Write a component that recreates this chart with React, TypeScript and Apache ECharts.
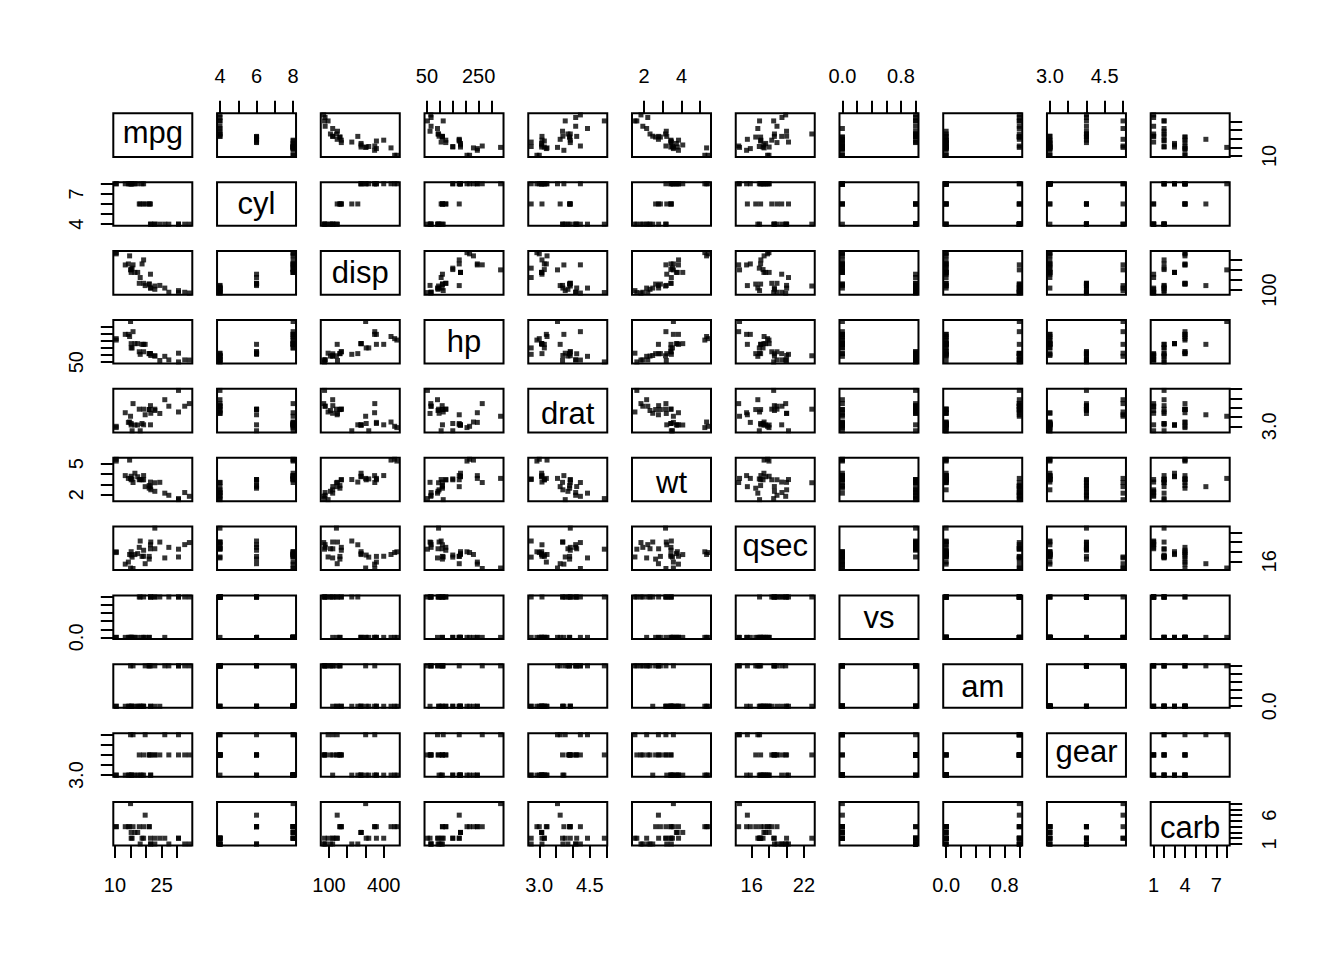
import React, { useEffect, useRef } from "react";
import * as echarts from "echarts";

// mtcars variables
const varNames = ["mpg", "cyl", "disp", "hp", "drat", "wt", "qsec", "vs", "am", "gear", "carb"];
const mpg = [21.0, 21.0, 22.8, 21.4, 18.7, 18.1, 14.3, 24.4, 22.8, 19.2, 17.8, 16.4, 17.3, 15.2, 10.4, 10.4, 14.7, 32.4, 30.4, 33.9, 21.5, 15.5, 15.2, 13.3, 19.2, 27.3, 26.0, 30.4, 15.8, 19.7, 15.0, 21.4];
const cyl = [6, 6, 4, 6, 8, 6, 8, 4, 4, 6, 6, 8, 8, 8, 8, 8, 8, 4, 4, 4, 4, 8, 8, 8, 8, 4, 4, 4, 8, 6, 8, 4];
const disp = [160.0, 160.0, 108.0, 258.0, 360.0, 225.0, 360.0, 146.7, 140.8, 167.6, 167.6, 275.8, 275.8, 275.8, 472.0, 460.0, 440.0, 78.7, 75.7, 71.1, 120.1, 318.0, 304.0, 350.0, 400.0, 79.0, 120.3, 95.1, 351.0, 145.0, 301.0, 121.0];
const hp = [110, 110, 93, 110, 175, 105, 245, 62, 95, 123, 123, 180, 180, 180, 205, 215, 230, 66, 52, 65, 97, 150, 150, 245, 175, 66, 91, 113, 264, 175, 335, 109];
const drat = [3.90, 3.90, 3.85, 3.08, 3.15, 2.76, 3.21, 3.69, 3.92, 3.92, 3.92, 3.07, 3.07, 3.07, 2.93, 3.00, 3.23, 4.08, 4.93, 4.22, 3.70, 2.76, 3.15, 3.73, 3.08, 4.08, 4.43, 3.77, 4.22, 3.62, 3.54, 4.11];
const wt = [2.620, 2.875, 2.320, 3.215, 3.440, 3.460, 3.570, 3.190, 3.150, 3.440, 3.440, 4.070, 3.730, 3.780, 5.250, 5.424, 5.345, 2.200, 1.615, 1.835, 2.465, 3.520, 3.435, 3.840, 3.845, 1.935, 2.140, 1.513, 3.170, 2.770, 3.570, 2.780];
const qsec = [16.46, 17.02, 18.61, 19.44, 17.02, 20.22, 15.84, 20.00, 22.90, 18.30, 18.90, 17.40, 17.60, 18.00, 17.98, 17.82, 17.42, 19.47, 18.52, 19.90, 20.01, 16.87, 17.30, 15.41, 17.05, 18.90, 16.70, 16.90, 14.50, 15.50, 14.60, 18.60];
const vs = [0, 0, 1, 1, 0, 1, 0, 1, 1, 1, 1, 0, 0, 0, 0, 0, 0, 1, 1, 1, 1, 0, 0, 0, 0, 1, 0, 1, 0, 0, 0, 1];
const am = [1, 1, 1, 0, 0, 0, 0, 0, 0, 0, 0, 0, 0, 0, 0, 0, 0, 1, 1, 1, 0, 0, 0, 0, 0, 1, 1, 1, 1, 1, 1, 1];
const gear = [4, 4, 4, 3, 3, 3, 3, 4, 4, 4, 4, 3, 3, 3, 3, 3, 3, 4, 4, 4, 3, 3, 3, 3, 3, 4, 5, 5, 5, 5, 5, 4];
const carb = [4, 4, 1, 1, 2, 1, 4, 2, 2, 4, 4, 3, 3, 3, 4, 4, 4, 1, 2, 1, 1, 2, 2, 4, 2, 1, 2, 2, 4, 6, 8, 2];
const columns = [mpg, cyl, disp, hp, drat, wt, qsec, vs, am, gear, carb];

// axis ticks and labels per variable (index follows varNames)
const tickValues = [
  [10, 15, 20, 25, 30],
  [4, 5, 6, 7, 8],
  [100, 200, 300, 400],
  [50, 100, 150, 200, 250, 300],
  [3.0, 3.5, 4.0, 4.5, 5.0],
  [2, 3, 4, 5],
  [16, 18, 20, 22],
  [0, 0.2, 0.4, 0.6, 0.8, 1.0],
  [0, 0.2, 0.4, 0.6, 0.8, 1.0],
  [3.0, 3.5, 4.0, 4.5, 5.0],
  [1, 2, 3, 4, 5, 6, 7, 8],
];
const topLabels = [[], [4, 6, 8], [], [50, 250], [], [2, 4], [], [0, 0.8], [], [3, 4.5], []];
const bottomLabels = [[10, 25], [], [100, 400], [], [3, 4.5], [], [16, 22], [], [0, 0.8], [], [1, 4, 7]];
const leftLabels = [[], [4, 7], [], [50], [], [2, 5], [], [0], [], [3], []];
const rightLabels = [[10], [], [100], [], [3], [], [16], [], [0], [], [1, 6]];
const decimals = [0, 0, 0, 0, 1, 0, 0, 1, 1, 1, 0];

// layout
const L0 = 113.3;
const DX = 103.74;
const PW = 79;
const T0 = 113.3;
const DY = 68.87;
const PH = 43.6;
const FONT = "'Liberation Sans', Arial, Helvetica, sans-serif";
const DIAG_FS = 31;

function rangeOf(v: number[]) {
  const mn = Math.min(...v);
  const mx = Math.max(...v);
  const d = (mx - mn) * 0.04;
  return [mn - d, mx + d];
}

// R-like vertical centring of a string: baseline = centre + (ascent - descent) / 2
function baselineShift(s: string, fs: number) {
  const asc = /[A-Zbdfhiklt0-9]/.test(s) ? 0.72 * fs : 0.52 * fs;
  const desc = /[gjpqy]/.test(s) ? 0.21 * fs : 0;
  return (asc - desc) / 2;
}

function buildOption() {
  const n = varNames.length;
  const grid: any[] = [];
  const xAxis: any[] = [];
  const yAxis: any[] = [];
  const series: any[] = [];
  const graphic: any[] = [];
  for (let i = 0; i < n; i++) {
    for (let j = 0; j < n; j++) {
      const k = grid.length;
      grid.push({
        left: L0 + j * DX,
        top: T0 + i * DY,
        width: PW,
        height: PH,
        show: true,
        borderColor: "#000",
        borderWidth: 2,
        backgroundColor: "transparent",
        containLabel: false,
      });
      const xr = rangeOf(columns[j]);
      const yr = rangeOf(columns[i]);
      const showTop = i === 0 && j % 2 === 1;
      const showBottom = i === n - 1 && j % 2 === 0;
      const showLeft = j === 0 && i % 2 === 1;
      const showRight = j === n - 1 && i % 2 === 0;
      const hasX = showTop || showBottom;
      const hasY = showLeft || showRight;
      const dx = decimals[j];
      const dy = decimals[i];
      xAxis.push({
        type: "value",
        gridIndex: k,
        min: xr[0],
        max: xr[1],
        position: showTop ? "top" : "bottom",
        axisLine: { show: false, onZero: false },
        splitLine: { show: false },
        axisTick: {
          show: hasX,
          length: 12.5,
          lineStyle: { color: "#000", width: 2 },
          customValues: tickValues[j],
        },
        axisLabel: {
          show: hasX,
          customValues: showTop ? topLabels[j] : bottomLabels[j],
          margin: showTop ? 27 : 29,
          fontSize: 20,
          color: "#000",
          fontFamily: FONT,
          formatter: (v: number) => v.toFixed(dx),
        },
      });
      yAxis.push({
        type: "value",
        gridIndex: k,
        min: yr[0],
        max: yr[1],
        position: showRight ? "right" : "left",
        axisLine: { show: false, onZero: false },
        splitLine: { show: false },
        axisTick: {
          show: hasY,
          length: 12.5,
          lineStyle: { color: "#000", width: 2 },
          customValues: tickValues[i],
        },
        axisLabel: {
          show: hasY,
          customValues: showRight ? rightLabels[i] : leftLabels[i],
          margin: showRight ? 29 : 27,
          rotate: 90,
          fontSize: 20,
          color: "#000",
          fontFamily: FONT,
          formatter: (v: number) => v.toFixed(dy),
        },
      });
      if (i === j) {
        const yOff = baselineShift(varNames[i], DIAG_FS) - 0.255 * DIAG_FS;
        graphic.push({
          type: "text",
          x: L0 + j * DX + PW / 2,
          y: T0 + i * DY + PH / 2 + yOff,
          style: {
            text: varNames[i],
            fontSize: DIAG_FS,
            fontFamily: FONT,
            fill: "#000",
            align: "center",
            verticalAlign: "middle",
            textAlign: "center",
            textVerticalAlign: "middle",
          },
        });
      } else {
        const xs = columns[j];
        const ys = columns[i];
        series.push({
          type: "scatter",
          xAxisIndex: k,
          yAxisIndex: k,
          data: xs.map((x, m) => [x, ys[m]]),
          symbol: "rect",
          symbolSize: 5,
          itemStyle: { color: "#000" },
          silent: true,
        });
      }
    }
  }
  return {
    animation: false,
    backgroundColor: "#fff",
    grid,
    xAxis,
    yAxis,
    series,
    graphic,
  };
}

export default function App() {
  const ref = useRef<HTMLDivElement>(null);
  useEffect(() => {
    if (!ref.current) return;
    const chart = echarts.init(ref.current, undefined, { renderer: "svg" });
    chart.setOption(buildOption() as any);
    return () => chart.dispose();
  }, []);
  return (
    <div
      ref={ref}
      style={{ position: "absolute", left: 0, top: 0, width: 1344, height: 960 }}
    />
  );
}
